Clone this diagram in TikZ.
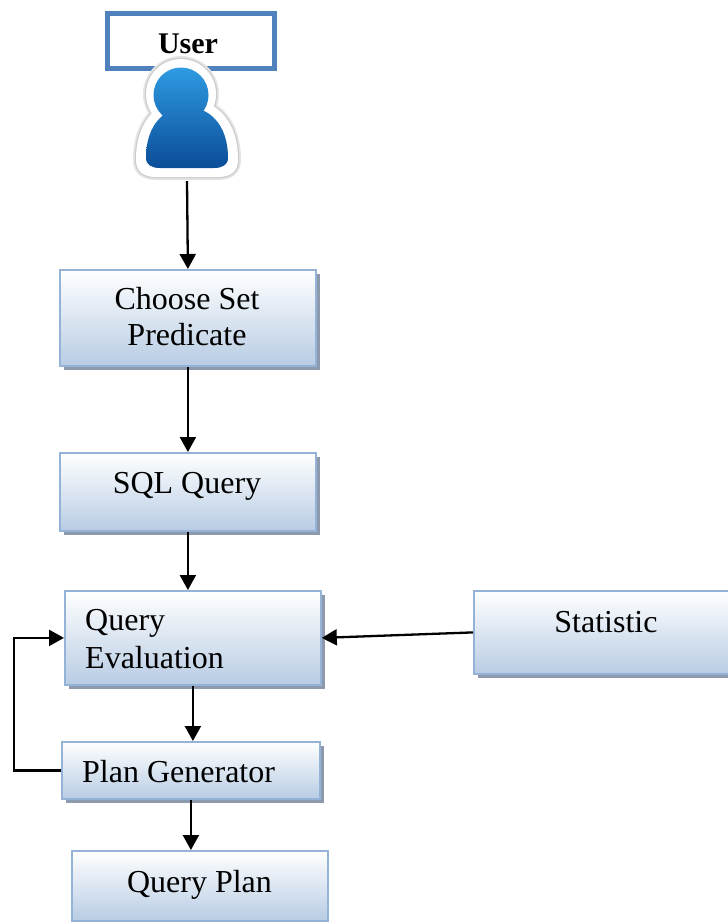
\documentclass[tikz,border=0pt]{standalone}
\usepackage{fontspec}
\setmainfont{Liberation Serif}
\usetikzlibrary{arrows.meta,shadows}
\definecolor{boxborder}{HTML}{95B3D7}
\definecolor{boxbottom}{HTML}{B8CCE4}
\definecolor{boxshadow}{HTML}{8D9AAE}
\definecolor{userborder}{HTML}{4F81BD}
\definecolor{iconlight}{HTML}{2E9BE2}
\definecolor{icondark}{HTML}{0B4C97}
\tikzset{
  box/.style={draw=boxborder, line width=1.8pt, top color=white, bottom color=boxbottom,
    inner sep=0pt, anchor=north west},
  shadowed/.style={drop shadow={shadow xshift=4pt, shadow yshift=-4pt, fill=boxshadow, opacity=1}},
  txt/.style={inner sep=0pt, font=\fontsize{32}{37}\selectfont},
  arr/.style={line width=2.3pt, -{Triangle[length=15pt,width=16pt]}}
}
\begin{document}
\begin{tikzpicture}[x=1pt,y=-1pt]
\useasboundingbox (0,0) rectangle (728,922);
\fill[white] (0,0) rectangle (728,922);

% user box
\node[draw=userborder, line width=5pt, fill=white, minimum width=167pt, minimum height=55pt,
      anchor=north west, inner sep=0pt] (userbox) at (104.5,10.5) {};
\node[anchor=base, inner sep=0pt, font=\fontsize{30}{36}\selectfont\bfseries] (usertext) at (188,53) {User};

% user icon
\draw[gray!20, line width=6pt]
  (181,94) circle (35)
  (136,160) .. controls (136,118) and (160,99) .. (187,99) .. controls (214,99) and (238,118) .. (238,160)
  .. controls (238,172) and (230,177) .. (218,177) -- (156,177) .. controls (144,177) and (136,172) .. (136,160) -- cycle;
\draw[gray!40, line width=2.5pt]
  (181,94) circle (35)
  (136,160) .. controls (136,118) and (160,99) .. (187,99) .. controls (214,99) and (238,118) .. (238,160)
  .. controls (238,172) and (230,177) .. (218,177) -- (156,177) .. controls (144,177) and (136,172) .. (136,160) -- cycle;
\fill[white]
  (181,94) circle (35)
  (136,160) .. controls (136,118) and (160,99) .. (187,99) .. controls (214,99) and (238,118) .. (238,160)
  .. controls (238,172) and (230,177) .. (218,177) -- (156,177) .. controls (144,177) and (136,172) .. (136,160) -- cycle;
\shade[top color=iconlight, bottom color=icondark]
  (181,95) circle (27.5)
  (146,158) .. controls (146,123) and (166,107) .. (187,107) .. controls (208,107) and (228,123) .. (228,158)
  .. controls (228,165) and (222,168) .. (214,168) -- (160,168) .. controls (152,168) and (146,165) .. (146,158) -- cycle;
\coordinate (iconbot) at (187,181);

% boxes
\node[box, shadowed, minimum width=256pt, minimum height=96pt] (csp) at (59,269) {};
\node[txt, anchor=base] (csp1) at (187,309) {Choose Set};
\node[txt, anchor=base] (csp2) at (187,345) {Predicate};

\node[box, shadowed, minimum width=256pt, minimum height=78pt] (sql) at (59,452) {};
\node[txt, anchor=base] (sqltext) at (187,493) {SQL Query};

\node[box, shadowed, minimum width=256pt, minimum height=94pt] (qe) at (64,590) {};
\node[txt, anchor=base west] (qe1) at (85,630) {Query};
\node[txt, anchor=base west] (qe2) at (85,668) {Evaluation};

\node[box, shadowed, minimum width=262pt, minimum height=83pt] (stat) at (473,590) {};
\node[txt, anchor=base] (stattext) at (606,632) {Statistic};

\node[box, shadowed, minimum width=258pt, minimum height=57pt] (pg) at (61,741) {};
\node[txt, anchor=base west] (pgtext) at (82,782) {Plan Generator};

\node[box, minimum width=256pt, minimum height=70pt] (qp) at (71,850) {};
\node[txt, anchor=base] (qptext) at (199.5,892) {Query Plan};

% connectors
\draw[arr] (iconbot) -- (csp.north);
\draw[arr] (csp.south) -- (sql.north);
\draw[arr] (sql.south) -- (sql.south |- qe.north);
\draw[arr] (stat.west) -- (qe.east);
\draw[arr] (qe.south) -- (qe.south |- pg.north);
\draw[arr] (pg.south) -- (pg.south |- qp.north);
\draw[arr] (pg.west) -- ++(-47,0) |- (qe.west);
\end{tikzpicture}
\end{document}
